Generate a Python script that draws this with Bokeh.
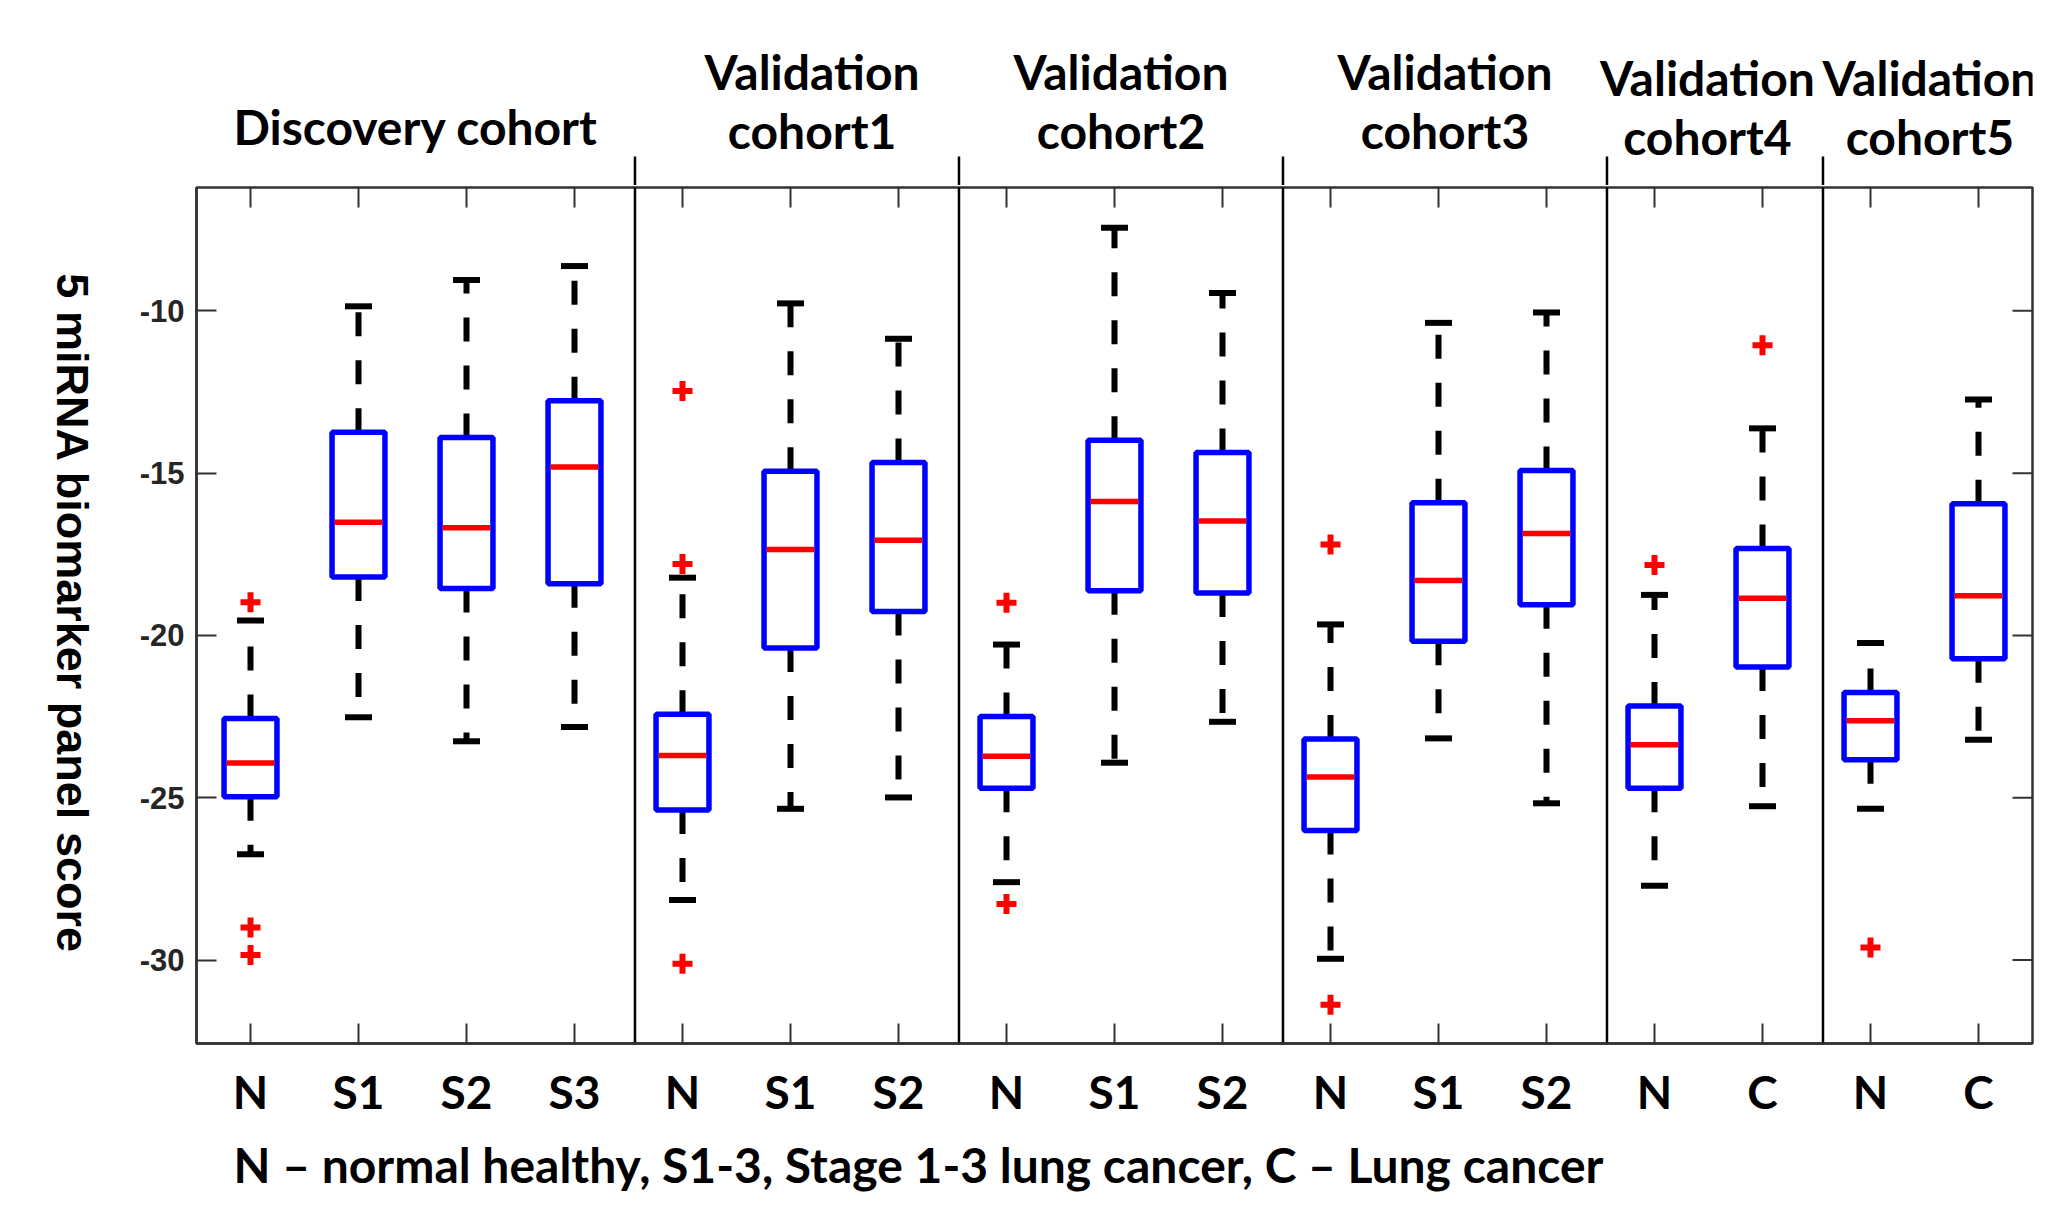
import numpy as np
from bokeh.plotting import figure
from bokeh.models import Range1d, FixedTicker
from bokeh.layouts import row, column
from bokeh.core.properties import value
from bokeh.embed import file_html
from bokeh.resources import INLINE

# ---------------- data ----------------
categories = ["N", "S1", "S2", "S3", "N", "S1", "S2", "N", "S1", "S2",
              "N", "S1", "S2", "N", "C", "N", "C"]
cohort_titles = [["Discovery cohort"],
                 ["Validation", "cohort1"],
                 ["Validation", "cohort2"],
                 ["Validation", "cohort3"],
                 ["Validation", "cohort4"],
                 ["Validation", "cohort5"]]
cohort_sizes = [4, 3, 3, 3, 2, 2]

lower_whisker = [-26.74, -22.52, -23.26, -22.82, -28.15, -25.34, -24.99, -27.60, -23.92,
                 -22.66, -29.96, -23.17, -25.17, -27.71, -25.26, -25.34, -23.21]
q1 = [-24.97, -18.20, -18.55, -18.41, -25.38, -20.39, -19.26, -24.71, -18.62,
      -18.69, -26.01, -20.18, -19.05, -24.71, -20.97, -23.83, -20.72]
median = [-23.93, -16.51, -16.68, -14.81, -23.70, -17.35, -17.07, -23.72, -15.87,
          -16.47, -24.36, -18.31, -16.86, -23.37, -18.85, -22.63, -18.78]
q3 = [-22.56, -13.74, -13.90, -12.77, -22.43, -14.94, -14.67, -22.50, -13.99,
      -14.36, -23.19, -15.91, -14.92, -22.17, -17.32, -21.76, -15.94]
upper_whisker = [-19.54, -9.86, -9.05, -8.62, -18.22, -9.77, -10.86, -20.28, -7.44,
                 -9.45, -19.66, -10.37, -10.05, -18.75, -13.62, -20.23, -12.73]
outliers = [[-18.98, -29.00, -29.84], [], [], [],
            [-12.47, -17.80, -30.11], [], [],
            [-18.99, -28.27], [], [],
            [-17.20, -31.38], [], [],
            [-17.83], [-11.06],
            [-29.61], []]
y_ticks = [-30, -25, -20, -15, -10]
y_label = "5 miRNA biomarker panel score"
footnote = "N \u2013 normal healthy, S1-3, Stage 1-3 lung cancer, C \u2013 Lung cancer"

# ---------------- layout geometry (pixels) ----------------
TOTAL_W, TOTAL_H = 2037, 1193
LEFT_W = 110            # strip holding the rotated y title
TOP_H = 185             # strip holding the cohort titles
M_BL, M_BR, M_BT, M_BB = 86, 5, 2, 90    # main figure borders
FRAME_W, FRAME_H = 1836, 856
MAIN_W = TOTAL_W - LEFT_W
MAIN_H = M_BT + FRAME_H + M_BB
FOOT_H = TOTAL_H - TOP_H - MAIN_H
FRAME_LEFT_PAGE = LEFT_W + M_BL

xs = np.arange(1, len(categories) + 1, dtype=float)
X_LO, X_HI = 0.5, len(categories) + 0.5
Y_LO, Y_HI = -32.57, -6.2
PPU_X = FRAME_W / (X_HI - X_LO)
PPU_Y = FRAME_H / (Y_HI - Y_LO)
BASE_FIX = 0.38          # em correction for the rendered baseline of free texts

AX = "#333333"

def bare(width, height, x_range, y_range):
    f = figure(width=width, height=height, x_range=x_range, y_range=y_range,
               output_backend="svg", toolbar_location=None,
               x_axis_type=None, y_axis_type=None, min_border=0)
    f.xgrid.visible = False
    f.ygrid.visible = False
    f.outline_line_color = None
    f.background_fill_color = "white"
    f.border_fill_color = "white"
    return f

# ---------------- main figure ----------------
p = figure(width=MAIN_W, height=MAIN_H,
           x_range=Range1d(X_LO, X_HI), y_range=Range1d(Y_LO, Y_HI),
           output_backend="svg", toolbar_location=None,
           min_border_left=M_BL, min_border_right=M_BR,
           min_border_top=M_BT, min_border_bottom=M_BB)
p.background_fill_color = "white"
p.border_fill_color = "white"
p.xgrid.visible = False
p.ygrid.visible = False
p.outline_line_color = AX
p.outline_line_width = 2.5

for ax in (p.xaxis[0], p.yaxis[0]):
    ax.major_tick_in = 20
    ax.major_tick_out = 0
    ax.minor_tick_in = 0
    ax.minor_tick_out = 0
    ax.axis_line_color = AX
    ax.axis_line_width = 2.5
    ax.major_tick_line_color = AX
    ax.major_tick_line_width = 2

p.xaxis.ticker = FixedTicker(ticks=list(xs))
p.xaxis.major_label_overrides = {int(x): c for x, c in zip(xs, categories)}
p.xaxis.major_label_text_font = "Lato"
p.xaxis.major_label_text_font_style = "bold"
p.xaxis.major_label_text_font_size = "46px"
p.xaxis.major_label_text_color = "black"
p.xaxis.major_label_standoff = 20

p.yaxis.ticker = FixedTicker(ticks=y_ticks)
p.yaxis.major_label_overrides = {t: "%d" % t for t in y_ticks}
p.yaxis.major_label_text_font = "Liberation Sans"
p.yaxis.major_label_text_font_style = "bold"
p.yaxis.major_label_text_font_size = "31px"
p.yaxis.major_label_text_color = "#262626"
p.yaxis.major_label_standoff = 12

# inward ticks on the top and right edges of the box
tick_dy = 20 / PPU_Y
tick_dx = 20 / PPU_X
p.segment(x0=xs, y0=[Y_HI] * len(xs), x1=xs, y1=[Y_HI - tick_dy] * len(xs),
          line_color=AX, line_width=2)
p.segment(x0=[X_HI] * len(y_ticks), y0=y_ticks, x1=[X_HI - tick_dx] * len(y_ticks),
          y1=y_ticks, line_color=AX, line_width=2)

# cohort separators
bounds = [X_LO]
acc = 0
for n in cohort_sizes[:-1]:
    acc += n
    bounds.append(acc + 0.56)
bounds.append(X_HI)
seps = bounds[1:-1]
p.segment(x0=seps, y0=[Y_HI] * len(seps), x1=seps, y1=[Y_LO] * len(seps),
          line_color="black", line_width=2.5)

# ---------------- boxplots ----------------
BOX_HALF = 0.245
CAP_HALF = 0.125
MED_HALF = 0.22

p.segment(x0=xs, y0=q3, x1=xs, y1=upper_whisker, line_color="black",
          line_width=6, line_dash="24 24")
p.segment(x0=xs, y0=q1, x1=xs, y1=lower_whisker, line_color="black",
          line_width=6, line_dash="24 24")
p.segment(x0=xs - CAP_HALF, y0=upper_whisker, x1=xs + CAP_HALF, y1=upper_whisker,
          line_color="black", line_width=6)
p.segment(x0=xs - CAP_HALF, y0=lower_whisker, x1=xs + CAP_HALF, y1=lower_whisker,
          line_color="black", line_width=6)
p.quad(left=xs - BOX_HALF, right=xs + BOX_HALF, bottom=q1, top=q3,
       fill_color=None, line_color="#0000ff", line_width=5.5)
p.segment(x0=xs - MED_HALF, y0=median, x1=xs + MED_HALF, y1=median,
          line_color="#ff0000", line_width=5.5)

ox, oy = [], []
for x, outs in zip(xs, outliers):
    for v in outs:
        ox.append(x)
        oy.append(v)
p.scatter(ox, oy, marker="cross", size=20, line_color="#ff0000", line_width=6)

# ---------------- title strip (frame is aligned with the box plot frame) ----------------
TITLE_FS = 48
t = bare(MAIN_W, TOP_H, Range1d(X_LO, X_HI), Range1d(0, TOP_H))
t.segment(x0=seps, y0=[TOP_H - 156] * len(seps), x1=seps, y1=[0] * len(seps),
          line_color="black", line_width=2.5)
title_drop = [0, 0, 0, 0, 6, 6]
title_nudge = [0, 0.14, 0, 0, -0.07, 0.02]
tx, ty, tt = [], [], []
for i, lines in enumerate(cohort_titles):
    cx = (bounds[i] + bounds[i + 1]) / 2 + title_nudge[i]
    base = [144] if len(lines) == 1 else [89, 148]
    for txt, b in zip(lines, base):
        tx.append(cx)
        ty.append(TOP_H - (b + title_drop[i]) + BASE_FIX * TITLE_FS)
        tt.append(txt)
t.text(x=tx, y=ty, text=tt, text_align="center", text_baseline="alphabetic",
       text_font=value("Lato"), text_font_style="bold",
       text_font_size="%dpx" % TITLE_FS, text_color="black")

# ---------------- footnote strip ----------------
FOOT_FS = 48
f = bare(MAIN_W, FOOT_H, Range1d(X_LO, X_HI), Range1d(0, FOOT_H))
foot_base_page = 1182
f.text(x=[X_LO + (233 - FRAME_LEFT_PAGE) / PPU_X],
       y=[TOTAL_H - foot_base_page + BASE_FIX * FOOT_FS],
       text=[footnote], text_align="left",
       text_baseline="alphabetic", text_font=value("Lato"), text_font_style="bold",
       text_font_size="%dpx" % FOOT_FS, text_color="black")

# ---------------- y title strip ----------------
YL_FS = 45
l = bare(LEFT_W, TOTAL_H, Range1d(0, LEFT_W), Range1d(0, TOTAL_H))
l.text(x=[55 + BASE_FIX * YL_FS], y=[TOTAL_H - 613], text=[y_label], angle=-np.pi / 2,
       text_align="center", text_baseline="alphabetic",
       text_font=value("Liberation Sans"), text_font_style="bold",
       text_font_size="%dpx" % YL_FS, text_color="black")

layout = row(l, column(t, p, f))
open("out.html", "w").write(file_html(layout, INLINE))
